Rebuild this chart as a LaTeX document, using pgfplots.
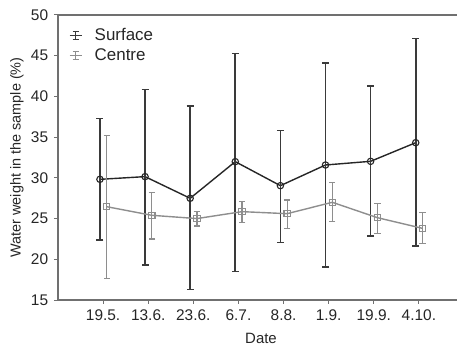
\documentclass[border=0pt]{standalone}
\usepackage{fontspec}
\setmainfont{Liberation Sans}
\usepackage{pgfplots}
\pgfplotsset{compat=1.18}
\usepackage{pgfplotstable}

\definecolor{surf}{HTML}{262626}
\definecolor{surfbar}{HTML}{3A3A3A}
\definecolor{cent}{HTML}{8E8E8E}
\definecolor{axcol}{HTML}{707070}

\pgfplotstableread{
x y lo hi
0.93 29.82 22.37 37.31
1.93 30.15 19.30 40.87
2.93 27.49 16.30 38.82
3.93 31.99 18.48 45.29
4.93 29.04 22.04 35.80
5.93 31.58 19.02 44.07
6.93 32.03 22.86 41.28
7.93 34.32 21.63 47.13
}\surface

\pgfplotstableread{
x y lo hi
1.08 26.46 17.66 35.22
2.08 25.40 22.49 28.22
3.08 25.00 24.10 25.90
4.08 25.85 24.54 27.07
5.08 25.60 23.76 27.28
6.08 27.00 24.62 29.41
7.08 25.11 23.19 26.87
8.08 23.80 21.96 25.72
}\centre

\begin{document}
\fontsize{14}{16}\selectfont
\begin{tikzpicture}
\begin{axis}[
  scale only axis, width=406bp, height=285bp,
  xmin=0, xmax=9, ymin=15, ymax=50,
  clip=false,
  axis lines=left,
  axis line style={draw=axcol, line width=1.2bp, -},
  tick align=outside,
  major tick length=4bp,
  tick style={draw=axcol, line width=1bp},
  xtick={1,2,3,4,5,6,7,8},
  xticklabels={19.5.,13.6.,23.6.,6.7.,8.8.,1.9.,19.9.,4.10.},
  ytick={15,20,25,30,35,40,45,50},
  /pgf/number format/assume math mode=true,
  tick label style={font=\fontsize{15.5}{17}\selectfont, text=black!85},
  xticklabel style={anchor=center, yshift=-11bp},
  yticklabel style={anchor=east, xshift=-1bp},
  xlabel={Date},
  ylabel={Water weight in the sample (\%)},
  every axis x label/.style={at={(rel axis cs:0.5,0)}, yshift=-43.5bp, anchor=base, inner sep=0pt,
    font=\fontsize{15}{17}\selectfont, text=black!85},
  every axis y label/.style={at={(rel axis cs:0,0.5)}, xshift=-41bp, rotate=90, anchor=center,
    font=\fontsize{14.5}{16}\selectfont, text=black!85},
  legend style={draw=none, fill=none, inner sep=0pt, at={(axis description cs:0.027,0.955)}, anchor=north west,
    font=\fontsize{17}{19}\selectfont, row sep=5bp,
    nodes={inner sep=0pt, text height=12bp, text depth=3bp, text=black!85}},
  legend cell align=left,
  legend image code/.code={
    \draw[#1, line width=1.1bp] (0bp,0bp) -- (12bp,0bp);
    \draw[#1, line width=1.1bp] (6bp,-4bp) -- (6bp,4bp);
    \draw[#1, line width=1.1bp] (3bp,4bp) -- (9bp,4bp);
    \draw[#1, line width=1.1bp] (3bp,-4bp) -- (9bp,-4bp);
    \path[draw=none] (0bp,0bp) -- (25bp,0bp);},
]
\addplot[forget plot, color=surf, line width=1.4bp, mark=o, mark size=3.2bp,
  mark options={line width=1.1bp},
  error bars/.cd, y dir=both, y explicit,
  error bar style={line width=1.6bp, draw=surfbar},
  error mark options={rotate=90, mark size=3.5bp, line width=1.6bp, draw=surfbar}]
  table[x=x, y=y, y error plus expr=\thisrow{hi}-\thisrow{y}, y error minus expr=\thisrow{y}-\thisrow{lo}] {\surface};
\addplot[forget plot, color=cent, line width=1.4bp, mark=square, mark size=3.2bp,
  mark options={line width=1.1bp},
  error bars/.cd, y dir=both, y explicit,
  error bar style={line width=1.3bp, draw=cent},
  error mark options={rotate=90, mark size=3.2bp, line width=1.3bp, draw=cent}]
  table[x=x, y=y, y error plus expr=\thisrow{hi}-\thisrow{y}, y error minus expr=\thisrow{y}-\thisrow{lo}] {\centre};
\addlegendimage{draw=surfbar}
\addlegendentry{Surface}
\addlegendimage{draw=cent}
\addlegendentry{Centre}
\draw[axcol, line width=1.2bp] (rel axis cs:0,1) -- (rel axis cs:1,1);
\coordinate (ll) at (rel axis cs:0,0);
\end{axis}
\pgfresetboundingbox
\path ([shift={(-58bp,-46bp)}]ll) rectangle ([shift={(399bp,300bp)}]ll);
\end{tikzpicture}
\end{document}
